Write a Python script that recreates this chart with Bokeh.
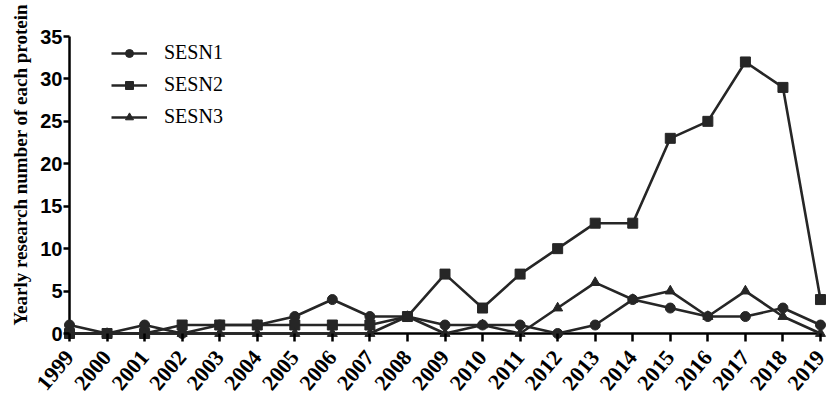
import math
from bokeh.plotting import figure
from bokeh.models import Range1d, FixedTicker, Legend, LegendItem, Title
from bokeh.embed import file_html
from bokeh.resources import INLINE

years = list(range(1999, 2020))
sesn1 = [1, 0, 1, 0, 1, 1, 2, 4, 2, 2, 1, 1, 1, 0, 1, 4, 3, 2, 2, 3, 1]
sesn2 = [0, 0, 0, 1, 1, 1, 1, 1, 1, 2, 7, 3, 7, 10, 13, 13, 23, 25, 32, 29, 4]
sesn3 = [0, 0, 0, 0, 0, 0, 0, 0, 0, 2, 0, 1, 0, 3, 6, 4, 5, 2, 5, 2, 0]
y_ticks = [0, 5, 10, 15, 20, 25, 30, 35]
series_names = ["SESN1", "SESN2", "SESN3"]
y_title = "Yearly research number of each protein"

col = "#262626"

p = figure(width=829, height=401, output_backend="svg", toolbar_location=None,
           x_range=Range1d(1998.84, 2019.16), y_range=Range1d(-0.707, 35.118),
           min_border_left=62, min_border_right=3, min_border_top=35,
           min_border_bottom=62)
p.outline_line_color = None
p.xgrid.grid_line_color = None
p.ygrid.grid_line_color = None
p.background_fill_color = None
p.border_fill_color = None

# axis lines drawn at the data origin (years[0], y_ticks[0])
p.segment(x0=[years[0]], y0=[y_ticks[0]], x1=[years[-1]], y1=[y_ticks[0]],
          line_color="black", line_width=2.5)
p.segment(x0=[years[0]], y0=[y_ticks[0]], x1=[years[0]], y1=[y_ticks[-1]],
          line_color="black", line_width=2.5)

r1l = p.line(years, sesn1, line_color=col, line_width=2.6)
r1m = p.scatter(years, sesn1, marker="circle", size=10, fill_color=col, line_color=col)
r2l = p.line(years, sesn2, line_color=col, line_width=2.6)
r2m = p.scatter(years, sesn2, marker="square", size=10, fill_color=col, line_color=col)
r3l = p.line(years, sesn3, line_color=col, line_width=2.6)
r3m = p.scatter(years, sesn3, marker="triangle", size=10, fill_color=col, line_color=col)

# axes
xa = p.xaxis[0]
xa.ticker = FixedTicker(ticks=years)
xa.major_label_orientation = 50 * math.pi / 180
xa.major_label_text_font = "Liberation Serif"
xa.major_label_text_font_style = "bold"
xa.major_label_text_font_size = "22px"
xa.major_label_text_line_height = 0.9
xa.major_label_text_color = "black"
xa.axis_line_color = None
xa.major_tick_line_width = 2.5
xa.major_tick_line_color = "black"
xa.major_tick_out = 2
xa.major_tick_in = 6
xa.minor_tick_line_color = None
xa.major_label_standoff = 12

ya = p.yaxis[0]
ya.ticker = FixedTicker(ticks=y_ticks)
ya.major_label_text_font = "Liberation Sans"
ya.major_label_text_font_style = "bold"
ya.major_label_text_font_size = "20px"
ya.major_label_text_color = "black"
ya.axis_line_color = None
ya.major_tick_line_width = 2.5
ya.major_tick_line_color = "black"
ya.major_tick_out = 0
ya.major_tick_in = 6
ya.minor_tick_line_color = None
ya.major_label_standoff = 1

p.add_layout(Title(text=y_title, align="left", offset=14,
                   text_font="Liberation Serif", text_font_style="bold",
                   text_font_size="19px", text_color="black", standoff=14), "left")

legend = Legend(items=[
    LegendItem(label=series_names[0], renderers=[r1l, r1m]),
    LegendItem(label=series_names[1], renderers=[r2l, r2m]),
    LegendItem(label=series_names[2], renderers=[r3l, r3m]),
], location=(48, 211))
legend.label_text_font = "Liberation Serif"
legend.label_text_font_size = "20px"
legend.label_text_color = "black"
legend.border_line_color = None
legend.background_fill_alpha = 0
legend.padding = 0
legend.margin = 0
legend.glyph_width = 36
legend.glyph_height = 20
legend.spacing = 9
legend.label_standoff = 17
p.add_layout(legend, "center")

open("out.html", "w").write(file_html(p, INLINE))
